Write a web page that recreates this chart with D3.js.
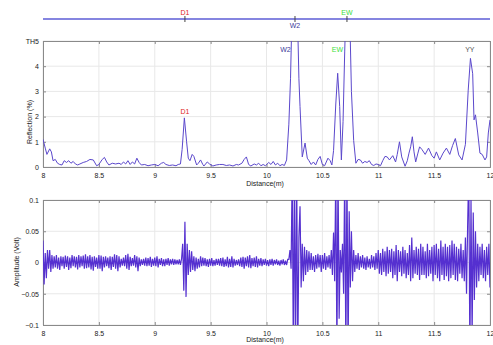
<!DOCTYPE html>
<html>
<head>
<meta charset="utf-8">
<script src="https://cdn.jsdelivr.net/npm/d3@7"></script>
<style>
body { margin: 0; background: #fff; }
text { font-family: "Liberation Sans", Arial, sans-serif; }
</style>
</head>
<body>
<svg id="chart" width="493" height="345"></svg>
<script>
'use strict';

// reflection trace (distance in m, reflection in %)
const reflDist = [8.00,8.02,8.035,8.06,8.075,8.09,8.11,8.13,8.15,8.17,8.19,8.21,8.23,8.25,8.27,8.29,8.31,8.33,8.36,8.39,
    8.42,8.45,8.48,8.50,8.53,8.55,8.57,8.59,8.62,8.65,8.68,8.70,8.72,8.74,8.76,8.78,8.80,8.82,8.84,8.86,
    8.88,8.91,8.94,8.97,9.00,9.03,9.06,9.08,9.10,9.13,9.16,9.19,9.21,9.23,9.245,9.265,9.285,9.30,9.315,9.335,
    9.35,9.375,9.39,9.41,9.43,9.44,9.47,9.49,9.52,9.55,9.58,9.61,9.64,9.67,9.70,9.73,9.75,9.78,9.80,9.82,
    9.84,9.86,9.89,9.91,9.93,9.95,9.97,9.99,10.02,10.04,10.06,10.08,10.10,10.12,10.14,10.16,10.18,10.20,10.215,10.23,
    10.255,10.275,10.29,10.30,10.32,10.345,10.365,10.38,10.40,10.42,10.44,10.46,10.48,10.50,10.52,10.55,10.57,10.585,10.60,10.62,
    10.637,10.655,10.67,10.685,10.70,10.715,10.73,10.745,10.76,10.78,10.80,10.82,10.84,10.86,10.88,10.90,10.92,10.94,10.96,10.98,
    11.00,11.02,11.04,11.06,11.08,11.10,11.13,11.155,11.17,11.19,11.21,11.24,11.26,11.275,11.29,11.305,11.32,11.335,11.355,11.37,
    11.39,11.42,11.45,11.48,11.50,11.52,11.55,11.58,11.61,11.64,11.665,11.69,11.72,11.75,11.78,11.805,11.825,11.845,11.857,11.87,
    11.89,11.91,11.93,11.955,11.97,11.985,12.00];
const reflValue = [1.10,0.75,0.50,0.72,0.60,0.25,0.30,0.15,0.10,0.08,0.25,0.18,0.25,0.15,0.22,0.12,0.08,0.12,0.18,0.22,
    0.30,0.28,0.05,0.10,0.30,0.38,0.20,0.08,0.15,0.12,0.15,0.10,0.20,0.12,0.25,0.10,0.20,0.12,0.35,0.18,
    0.08,0.10,0.05,0.08,0.10,0.05,0.15,0.18,0.10,0.06,0.08,0.05,0.10,0.12,0.70,1.95,1.00,0.35,0.25,0.50,
    0.42,0.08,0.15,0.28,0.10,0.04,0.20,0.12,0.04,0.08,0.10,0.10,0.06,0.08,0.04,0.10,0.08,0.15,0.30,0.40,
    0.10,0.04,0.12,0.08,0.15,0.05,0.10,0.05,0.18,0.10,0.22,0.08,0.15,0.05,0.10,0.06,0.28,1.70,3.5,6.5,
    7.5,6.5,3.5,2.4,0.40,0.95,0.35,0.25,0.10,0.20,0.08,0.30,0.42,0.10,0.05,0.35,0.25,0.08,0.65,2.5,
    3.72,2.4,0.28,1.8,4.6,7.0,7.5,6.0,3.0,1.05,0.15,0.30,0.28,0.15,0.22,0.18,0.25,0.10,0.06,0.12,
    0.10,0.05,0.25,0.42,0.40,0.28,0.45,0.20,0.50,1.00,0.40,0.03,0.25,0.55,0.80,1.20,0.60,0.20,0.55,0.80,
    0.70,0.50,0.75,0.45,0.35,0.60,0.28,0.55,0.75,0.50,0.85,1.13,0.48,0.28,0.90,3.05,4.31,3.70,1.87,2.07,
    1.35,0.55,0.50,0.28,0.40,1.35,1.87];

// raw echo, one sample every 0.01 m from 8.00 m
const ampStart = 8.0, ampStep = 0.01;
const ampValue = [
    0.035,-0.035,0.015,-0.025,0.02,-0.01,0.02,-0.015,0.012,-0.01,
    0.01,-0.008,0.012,-0.01,0.008,-0.012,0.01,-0.006,0.009,-0.01,
    0.011,-0.007,0.01,-0.012,0.008,-0.009,0.012,-0.006,0.01,-0.008,
    0.009,-0.011,0.012,-0.008,0.01,-0.006,0.011,-0.01,0.013,-0.009,
    0.01,-0.008,0.012,-0.011,0.009,-0.013,0.01,-0.007,0.008,-0.01,
    0.012,-0.01,0.011,-0.014,0.009,-0.008,0.01,-0.006,0.008,-0.009,
    0.01,-0.012,0.009,-0.007,0.013,-0.01,0.012,-0.014,0.01,-0.008,
    0.006,-0.005,0.008,-0.006,0.012,-0.01,0.014,-0.012,0.009,-0.006,
    0.007,-0.005,0.012,-0.008,0.01,-0.014,0.008,-0.006,0.005,-0.004,
    0.006,-0.005,0.008,-0.006,0.007,-0.005,0.009,-0.007,0.006,-0.005,
    0.008,-0.006,0.01,-0.008,0.006,-0.004,0.007,-0.006,0.005,-0.006,
    0.006,-0.004,0.007,-0.005,0.005,-0.003,0.006,-0.004,0.005,-0.003,
    0.004,-0.003,0.005,-0.004,0.006,0.03,-0.045,0.065,-0.055,0.03,
    -0.02,0.02,-0.015,0.018,-0.012,0.01,-0.014,0.008,-0.01,0.006,
    -0.008,0.01,-0.006,0.008,-0.005,0.007,-0.006,0.005,-0.007,0.006,
    -0.005,0.007,-0.006,0.004,-0.005,0.006,-0.004,0.006,-0.005,0.007,
    -0.006,0.008,-0.007,0.005,-0.006,0.009,-0.008,0.006,-0.007,0.01,
    -0.008,0.006,-0.005,0.004,-0.004,0.005,-0.006,0.008,-0.007,0.009,
    -0.01,0.008,-0.006,0.01,-0.008,0.012,-0.009,0.007,-0.006,0.008,
    -0.007,0.01,-0.008,0.006,-0.005,0.007,-0.006,0.005,-0.004,0.006,
    -0.005,0.004,-0.006,0.005,-0.004,0.006,-0.005,0.004,-0.003,0.005,
    -0.004,0.003,-0.005,0.004,-0.003,0.005,-0.004,0.003,-0.004,0.005,
    0.005,0.02,-0.01,0.15,-0.15,0.15,-0.15,0.15,-0.15,0.04,
    0.09,-0.04,0.03,-0.03,0.025,-0.02,0.02,-0.015,0.018,-0.012,
    0.015,-0.012,0.01,-0.015,0.012,-0.01,0.014,-0.008,0.012,-0.015,
    0.012,-0.01,0.015,-0.012,0.01,-0.008,0.012,-0.01,0.02,-0.02,
    0.048,-0.03,0.15,-0.15,0.15,-0.09,0.02,-0.016,0.03,-0.05,
    0.15,-0.15,0.15,-0.15,0.082,-0.04,0.05,-0.03,0.02,-0.015,
    0.012,-0.01,0.015,-0.012,0.01,-0.008,0.012,-0.01,0.008,-0.012,
    0.01,-0.008,0.006,-0.01,0.012,-0.008,0.01,-0.012,0.015,-0.01,
    0.02,-0.018,0.015,-0.02,0.022,-0.015,0.018,-0.022,0.025,-0.018,
    0.02,-0.015,0.022,-0.025,0.018,-0.02,0.028,-0.03,0.02,-0.015,
    0.018,-0.022,0.025,-0.018,0.02,-0.025,0.015,-0.02,0.028,-0.03,
    0.04,-0.025,0.02,-0.018,0.025,-0.02,0.022,-0.028,0.03,-0.02,
    0.025,-0.02,0.018,-0.025,0.03,-0.022,0.02,-0.018,0.025,-0.03,
    0.028,-0.02,0.03,-0.025,0.022,-0.03,0.035,-0.02,0.025,-0.028,
    0.03,-0.022,0.025,-0.03,0.028,-0.025,0.035,-0.02,0.03,-0.028,
    0.025,-0.03,0.022,-0.018,0.03,-0.025,0.02,-0.03,0.04,-0.05,
    0.06,0.15,-0.15,0.1,-0.12,0.08,-0.06,0.05,-0.04,0.03,
    -0.03,0.025,-0.02,0.03,-0.025,0.02,-0.03,0.025,-0.02,0.03,
    -0.04];

const xTicks = [8, 8.5, 9, 9.5, 10, 10.5, 11, 11.5, 12];
const reflTicks = [0, 1, 2, 3, 4, 5];
const ampTicks = [-0.1, -0.05, 0, 0.05, 0.1];

// event markers on the strip above the plots
const eventNames = ['D1', 'W2', 'EW'];
const eventPos = [9.27, 10.255, 10.72];
const eventColors = ['#e02424', '#3a3a9a', '#3ce03c'];

// peak labels inside the reflection plot
const peakNames = ['D1', 'W2', 'EW', 'YY'];
const peakPos = [9.27, 10.17, 10.635, 11.82];
const peakLevel = [2.1, 4.56, 4.56, 4.56];
const peakColors = ['#e02424', '#3a3a9a', '#3ce03c', '#555555'];

const svg = d3.select('#chart');
const left = 43, right = 490;

const x = d3.scaleLinear().domain([8, 12]).range([left, right]);
const yR = d3.scaleLinear().domain([0, 5]).range([167, 41]);
const yA = d3.scaleLinear().domain([-0.1, 0.1]).range([325, 200]);

function panel(y, ticks, fmt, id) {
    const g = svg.append('g');
    const [y0, y1] = y.range();
    // grid
    g.selectAll('.gx').data(xTicks).enter().append('line')
        .attr('x1', d => x(d)).attr('x2', d => x(d))
        .attr('y1', y1).attr('y2', y0)
        .style('stroke', '#e8e8e8').style('stroke-width', 1);
    g.selectAll('.gy').data(ticks).enter().append('line')
        .attr('x1', left).attr('x2', right)
        .attr('y1', d => y(d)).attr('y2', d => y(d))
        .style('stroke', '#e8e8e8').style('stroke-width', 1);

    g.append('clipPath').attr('id', id)
        .append('rect').attr('x', left).attr('y', y1)
        .attr('width', right - left).attr('height', y0 - y1);

    // axes, ticks point inwards
    g.append('g').attr('transform', 'translate(0,' + y0 + ')')
        .call(d3.axisBottom(x).tickValues(xTicks).tickSize(-3).tickPadding(6)
            .tickFormat(d3.format('')));
    g.append('g').attr('transform', 'translate(' + left + ',0)')
        .call(d3.axisLeft(y).tickValues(ticks).tickSize(-3).tickPadding(4).tickFormat(fmt));
    g.append('g').attr('transform', 'translate(0,' + y1 + ')')
        .call(d3.axisTop(x).tickValues(xTicks).tickSize(-3).tickFormat(''));
    g.append('g').attr('transform', 'translate(' + right + ',0)')
        .call(d3.axisRight(y).tickValues(ticks).tickSize(-3).tickFormat(''));

    g.selectAll('.domain').style('stroke', '#8a8a8a');
    g.selectAll('.tick line').style('stroke', '#8a8a8a');
    g.selectAll('.tick text').style('font-size', '7px').style('fill', '#222');
    return g;
}

// ---- reflection panel ----
const reflPanel = panel(yR, reflTicks, d => d === 5 ? 'TH5' : d, 'clipR');
const reflLine = d3.line().x(d => x(d[0])).y(d => yR(d[1]));
reflPanel.append('path')
    .datum(d3.zip(reflDist, reflValue))
    .attr('clip-path', 'url(#clipR)')
    .attr('d', reflLine)
    .style('fill', 'none').style('stroke', '#5b48cc').style('stroke-width', 1);

reflPanel.selectAll('.peak').data(peakNames).enter().append('text')
    .attr('x', (d, i) => x(peakPos[i])).attr('y', (d, i) => yR(peakLevel[i]))
    .attr('text-anchor', 'middle')
    .style('font-size', '7px').style('fill', (d, i) => peakColors[i])
    .text(d => d);

reflPanel.append('text').attr('x', 265).attr('y', 186).attr('text-anchor', 'middle')
    .style('font-size', '7px').style('fill', '#222').text('Distance(m)');
reflPanel.append('text').attr('transform', 'translate(32,122) rotate(-90)')
    .attr('text-anchor', 'middle')
    .style('font-size', '7px').style('fill', '#222').text('Reflection (%)');

// ---- amplitude panel ----
const ampPanel = panel(yA, ampTicks, d => d === 0 ? '0' : d3.format('')(d), 'clipA');
const ampLine = d3.line().x((d, i) => x(ampStart + i * ampStep)).y(d => yA(d));
ampPanel.append('path')
    .datum(ampValue)
    .attr('clip-path', 'url(#clipA)')
    .attr('d', ampLine)
    .style('fill', 'none').style('stroke', '#5530d0').style('stroke-width', 1.2);

ampPanel.append('text').attr('x', 265).attr('y', 342).attr('text-anchor', 'middle')
    .style('font-size', '7px').style('fill', '#222').text('Distance(m)');
ampPanel.append('text').attr('transform', 'translate(19,262) rotate(-90)')
    .attr('text-anchor', 'middle')
    .style('font-size', '7px').style('fill', '#222').text('Amplitude (Volt)');

// ---- event strip ----
const strip = svg.append('g');
strip.append('line').attr('x1', left).attr('x2', right).attr('y1', 19).attr('y2', 19)
    .style('stroke', '#5c5cd6').style('stroke-width', 1.3);
strip.selectAll('.ev').data(eventPos).enter().append('line')
    .attr('x1', d => x(d)).attr('x2', d => x(d))
    .attr('y1', 16).attr('y2', 22)
    .style('stroke', '#444').style('stroke-width', 1);
strip.selectAll('.evt').data(eventNames).enter().append('text')
    .attr('x', (d, i) => x(eventPos[i]))
    .attr('y', d => d === 'W2' ? 28 : 15)
    .attr('text-anchor', 'middle')
    .style('font-size', '7px').style('fill', (d, i) => eventColors[i])
    .text(d => d);
</script>
</body>
</html>
